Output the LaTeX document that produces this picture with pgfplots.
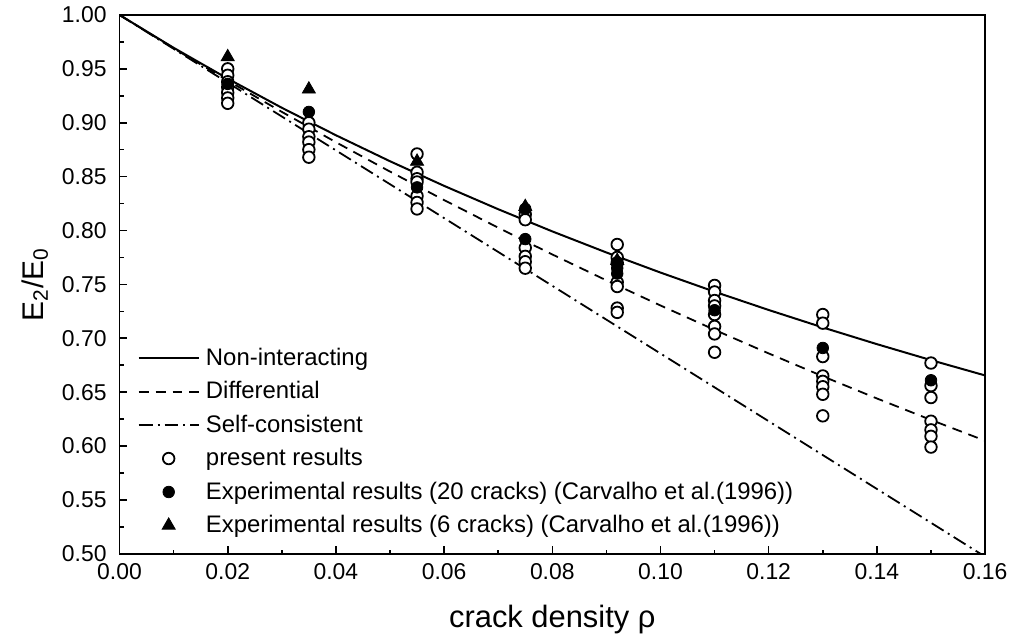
\documentclass[border=0pt]{standalone}
\usepackage{fontspec}
\setmainfont{Liberation Sans}
\usepackage{pgfplots}
\pgfplotsset{compat=1.18}
\begin{document}
\begin{tikzpicture}
\begin{axis}[
  scale only axis,
  width=434.5pt, height=270.5pt,
  xmin=0, xmax=0.16, ymin=0.5, ymax=1.0,
  xtick={0,0.02,...,0.161}, ytick={0.5,0.55,...,1.001},
  minor x tick num=1, minor y tick num=1,
  tick pos=left, tick align=inside,
  major tick length=4pt, minor tick length=2pt,
  axis line style={line width=0.9pt},
  every tick/.style={black, line width=0.8pt},
  /pgf/number format/assume math mode=true,
  xticklabel style={/pgf/number format/.cd, fixed, fixed zerofill, precision=2, /tikz/.cd, yshift=-1.5pt},
  yticklabel style={/pgf/number format/.cd, fixed, fixed zerofill, precision=2, /tikz/.cd, xshift=-3pt},
  tick label style={font=\fontsize{11.5}{13}\selectfont},
  xlabel={crack density ρ},
  ylabel={E\textsubscript{2}/E\textsubscript{0}},
  xlabel style={font=\fontsize{15.5}{18}\selectfont, at={(axis description cs:0.5,-0.122)}, anchor=center},
  ylabel style={font=\fontsize{15}{18}\selectfont, at={(axis description cs:-0.098,0.5)}, anchor=center, rotate=0},
  legend cell align=left,
  legend style={at={(axis description cs:0.0205,0.39)}, anchor=north west, draw=none, fill=none,
    font=\fontsize{12}{14}\selectfont, row sep=2.6pt, inner sep=0pt},
  legend image code/.code={\draw[mark repeat=2,mark phase=2,#1] plot coordinates {(0cm,0cm) (0.53cm,0cm) (1.06cm,0cm)}; \path (1.10cm,0cm);},
]
\addplot[black, line width=1pt] coordinates {
(0,1) (0.01,0.96954) (0.02,0.94088) (0.03,0.91387) (0.04,0.88837) (0.05,0.86424)
(0.06,0.84140) (0.07,0.81973) (0.08,0.79915) (0.09,0.77958) (0.10,0.76094)
(0.11,0.74318) (0.12,0.72622) (0.13,0.71002) (0.14,0.69453) (0.15,0.67970) (0.16,0.66549)};
\addlegendentry{Non-interacting}
\addplot[black, line width=0.9pt, dash pattern=on 5pt off 3.5pt] coordinates {
(0,1) (0.01,0.96907) (0.02,0.93910) (0.03,0.91006) (0.04,0.88191) (0.05,0.85464)
(0.06,0.82821) (0.07,0.80259) (0.08,0.77776) (0.09,0.75371) (0.10,0.73040)
(0.11,0.70781) (0.12,0.68592) (0.13,0.66470) (0.14,0.64414) (0.15,0.62422) (0.16,0.60492)};
\addlegendentry{Differential}
\addplot[black, line width=0.9pt, dash pattern=on 7pt off 2.5pt on 1pt off 2.5pt] coordinates {
(0,1) (0.08,0.74867) (0.16,0.49735)};
\addlegendentry{Self-consistent}
\addplot[only marks, mark=*, mark size=2.9pt, mark options={fill=white, draw=black, line width=0.9pt}] coordinates {
(0.02,0.950) (0.02,0.944) (0.02,0.938) (0.02,0.933) (0.02,0.928) (0.02,0.923) (0.02,0.918)
(0.035,0.900) (0.035,0.894) (0.035,0.887) (0.035,0.882) (0.035,0.875) (0.035,0.868)
(0.055,0.871) (0.055,0.854) (0.055,0.848) (0.055,0.845) (0.055,0.832) (0.055,0.826) (0.055,0.820)
(0.075,0.815) (0.075,0.810) (0.075,0.784) (0.075,0.776) (0.075,0.771) (0.075,0.765)
(0.092,0.787) (0.092,0.775) (0.092,0.770) (0.092,0.752) (0.092,0.748) (0.092,0.728) (0.092,0.724)
(0.11,0.749) (0.11,0.743) (0.11,0.735) (0.11,0.730) (0.11,0.722) (0.11,0.711) (0.11,0.704) (0.11,0.687)
(0.13,0.722) (0.13,0.714) (0.13,0.683) (0.13,0.665) (0.13,0.660) (0.13,0.655) (0.13,0.648) (0.13,0.628)
(0.15,0.677) (0.15,0.656) (0.15,0.645) (0.15,0.623) (0.15,0.615) (0.15,0.609) (0.15,0.599)};
\addlegendentry{present results}
\addplot[only marks, mark=*, mark size=2.9pt, mark options={fill=black, draw=black}] coordinates {
(0.02,0.936) (0.035,0.910) (0.055,0.840) (0.075,0.820) (0.075,0.792)
(0.092,0.765) (0.092,0.760) (0.11,0.726) (0.13,0.691) (0.15,0.661)};
\addlegendentry{Experimental results (20 cracks) (Carvalho et al.(1996))}
\addplot[only marks, mark=triangle*, mark size=3.8pt, mark options={fill=black, draw=black}] coordinates {
(0.02,0.961) (0.035,0.931) (0.055,0.864) (0.075,0.822) (0.092,0.772)};
\addlegendentry{Experimental results (6 cracks) (Carvalho et al.(1996))}
\end{axis}
\path ([xshift=-60pt]current axis.south west) ([yshift=-41pt]current axis.south west);
\path ([xshift=11pt]current axis.north east) ([yshift=7.5pt]current axis.north east);
\end{tikzpicture}
\end{document}
